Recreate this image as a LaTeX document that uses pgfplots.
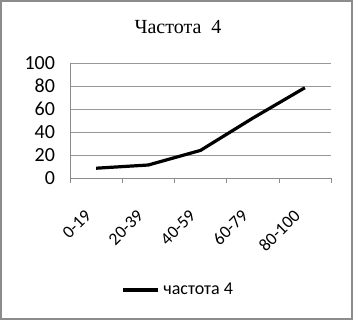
\documentclass[border=0pt]{standalone}
\usepackage{fontspec}
\setmainfont{Carlito}
\newfontfamily\titlefont{Liberation Serif}
\usepackage{pgfplots}
\pgfplotsset{compat=1.18}
\begin{document}
\begin{tikzpicture}
\useasboundingbox (0,0) rectangle (176.5pt,160pt);
\draw[line width=1pt, color=black!45] (0.5pt,0.5pt) rectangle (176pt,159.5pt);
\node[font=\titlefont\fontsize{10}{12}\selectfont] at (89pt,146.5pt) {Частота\ \ 4};
\begin{axis}[
  at={(35pt,71pt)}, anchor=south west,
  scale only axis, width=130.5pt, height=57.5pt,
  xmin=0, xmax=5, ymin=0, ymax=100,
  ytick={0,20,...,100},
  xtick={0.5,1.5,2.5,3.5,4.5},
  xticklabels={0-19,20-39,40-59,60-79,80-100},
  extra x ticks={0,1,2,3,4,5},
  extra x tick labels={},
  extra x tick style={major tick length=2.5pt, tick align=outside, grid=none, tick style={color=black!45}},
  major tick length=0pt,
  axis x line*=bottom, axis y line*=left,
  axis line style={color=black!45, -},
  ymajorgrids, grid style={color=black!40, line width=0.4pt},
  /pgf/number format/assume math mode=true,
  yticklabel style={font=\fontsize{10}{12}\selectfont, xshift=-4pt},
  xticklabel style={font=\fontsize{8.8}{10}\selectfont, yshift=-15pt, xshift=-1.5pt, rotate=45, anchor=east},
  legend style={at={(0.418,-0.974)}, anchor=center, draw=none, fill=none, font=\fontsize{9}{11}\selectfont, inner sep=0pt},
  legend image code/.code={\draw[#1] (0pt,0pt) -- (17.5pt,0pt);},
  legend cell align=left,
  clip=false,
]
\addplot[black, line width=1.6pt, line join=round] coordinates {
  (0.5,8.5) (1.5,11.3) (2.5,24) (3.5,52) (4.5,78.5)
};
\addlegendentry{частота 4}
\end{axis}
\end{tikzpicture}
\end{document}
